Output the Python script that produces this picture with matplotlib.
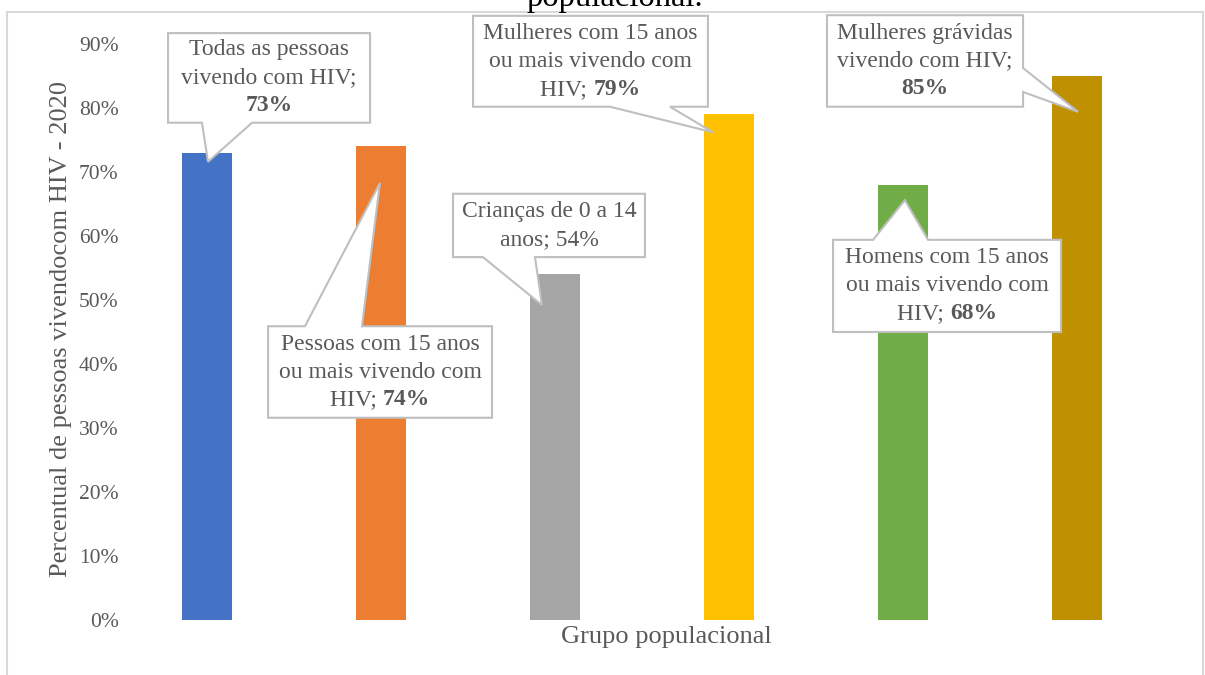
import matplotlib
matplotlib.use("Agg")
import matplotlib.pyplot as plt
from matplotlib.patches import Polygon, Rectangle
from matplotlib.offsetbox import TextArea, HPacker, VPacker, AnnotationBbox

plt.rcParams['font.family'] = ['Liberation Serif', 'DejaVu Serif']

# dados
grupos = ['Todas as pessoas', 'Pessoas 15+', 'Crianças 0-14',
          'Mulheres 15+', 'Homens 15+', 'Mulheres grávidas']
valores = [0.73, 0.74, 0.54, 0.79, 0.68, 0.85]
cores = ['#4472C4', '#ED7D31', '#A5A5A5', '#FFC000', '#70AD47', '#BF9000']

# texto dos balões: lista de linhas, cada linha lista de (texto, negrito)
rotulos = [
    [[('Todas as pessoas', False)], [('vivendo com HIV;', False)], [('73%', True)]],
    [[('Pessoas com 15 anos', False)], [('ou mais vivendo com', False)],
     [('HIV; ', False), ('74%', True)]],
    [[('Crianças de 0 a 14', False)], [('anos; 54%', False)]],
    [[('Mulheres com 15 anos', False)], [('ou mais vivendo com', False)],
     [('HIV; ', False), ('79%', True)]],
    [[('Homens com 15 anos', False)], [('ou mais vivendo com', False)],
     [('HIV; ', False), ('68%', True)]],
    [[('Mulheres grávidas', False)], [('vivendo com HIV;', False)], [('85%', True)]],
]

# layout dos balões (x0, x1, y_baixo, y_cima), lado do bico, faixa do bico, queda da ponta
baloes = [
    ((-0.224, 0.937, 0.777, 0.917), 'bottom', (-0.029, 0.259), 0.014),
    ((0.351, 1.638, 0.316, 0.459), 'top', (0.563, 0.891), 0.057),
    ((1.414, 2.517, 0.567, 0.666), 'bottom', (1.586, 1.885), 0.048),
    ((1.529, 2.879, 0.802, 0.944), 'bottom', (2.316, 2.661), 0.028),
    ((3.598, 4.908, 0.450, 0.594), 'top', (3.828, 4.144), 0.024),
    ((3.563, 4.690, 0.802, 0.945), 'right', (0.825, 0.8625), 0.056),
]
ponta_dx = [0.006, -0.006, -0.075, -0.092, 0.011, 0.006]

cinza = '#595959'

fig = plt.figure(figsize=(12.05, 6.75), dpi=100)
ax = fig.add_axes([120 / 1205, 55 / 675, 1044 / 1205, 576 / 675])

x = list(range(len(grupos)))
ax.bar(x, valores, width=0.287, color=cores, zorder=2)

ax.set_xlim(-0.5, 5.5)
ax.set_ylim(0, 0.9)
ax.set_yticks([i / 10 for i in range(10)])
ax.set_yticklabels([f'{i * 10}%' for i in range(10)])
ax.set_xticks([])
ax.tick_params(axis='y', length=0, pad=1, labelsize=15.5, labelcolor=cinza)
for s in ax.spines.values():
    s.set_visible(False)

ax.set_ylabel('Percentual de pessoas vivendocom HIV - 2020', fontsize=19, color=cinza)
ax.yaxis.set_label_coords(-0.046, 0.505)
ax.set_xlabel('Grupo populacional', fontsize=19, color=cinza)
ax.xaxis.set_label_coords(0.523, -0.011)

# balões
for i, (box, lado, (n0, n1), queda) in enumerate(baloes):
    x0, x1, y0, y1 = box
    tip = (i + ponta_dx[i], valores[i] - queda)
    if lado == 'bottom':
        pts = [(x0, y1), (x1, y1), (x1, y0), (n1, y0), tip, (n0, y0), (x0, y0)]
    elif lado == 'top':
        pts = [(x0, y1), (n0, y1), tip, (n1, y1), (x1, y1), (x1, y0), (x0, y0)]
    else:
        pts = [(x0, y1), (x1, y1), (x1, n1), tip, (x1, n0), (x1, y0), (x0, y0)]
    ax.add_patch(Polygon(pts, closed=True, facecolor='white', edgecolor='#BFBFBF',
                         lw=1.5, zorder=3, clip_on=False))

    linhas = []
    for linha in rotulos[i]:
        partes = [TextArea(t, textprops=dict(fontsize=17, color=cinza,
                                              fontweight='bold' if b else 'normal'))
                  for t, b in linha]
        linhas.append(HPacker(children=partes, pad=0, sep=0, align='baseline'))
    bloco = VPacker(children=linhas, pad=0, sep=5, align='center')
    ab = AnnotationBbox(bloco, ((x0 + x1) / 2, (y0 + y1) / 2), frameon=False,
                        box_alignment=(0.5, 0.5), zorder=4, annotation_clip=False)
    ax.add_artist(ab)

# moldura do gráfico e título cortado
fig.add_artist(Rectangle((7 / 1205, -0.05), 1196 / 1205, 1.05 - 12 / 675,
                         transform=fig.transFigure, fill=False,
                         edgecolor='#D9D9D9', lw=1.5))
fig.text(615 / 1205, 1 - 6 / 675, 'populacional.', fontsize=23.5, color='black',
         ha='center', va='baseline')

fig.savefig('out.png', dpi=100)
